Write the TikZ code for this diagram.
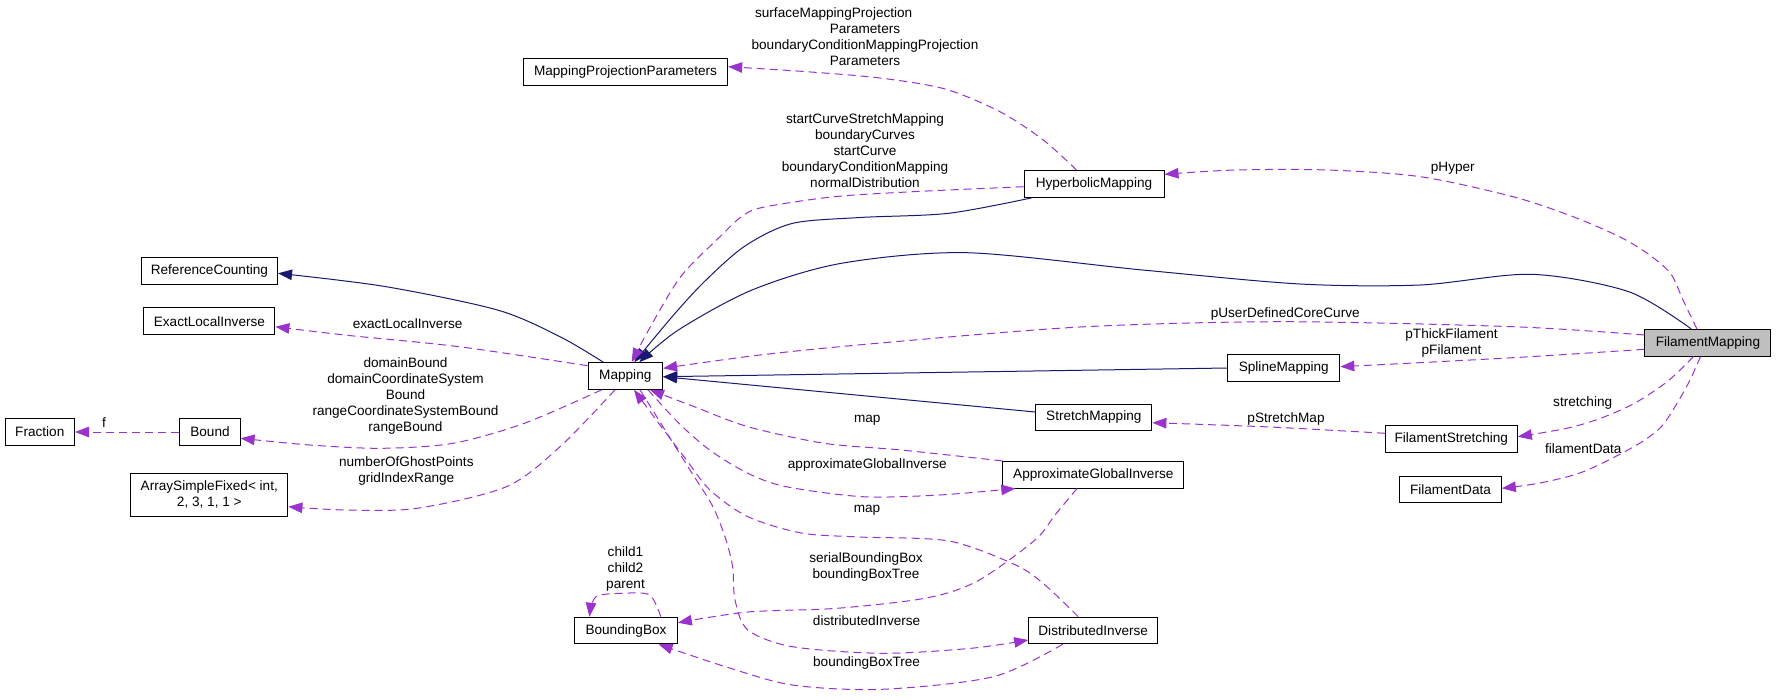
\documentclass[tikz,border=0pt]{standalone}
\usepackage{fontspec}
\setmainfont{Liberation Sans}
\usetikzlibrary{arrows.meta,calc}
\definecolor{inh}{HTML}{191970}
\definecolor{usec}{HTML}{9A32CD}
\definecolor{fmgray}{HTML}{BFBFBF}
\tikzset{
  cls/.style={draw=black, line width=1pt, fill=white, minimum height=26.6pt, inner sep=0pt,
    font=\fontsize{13.6}{16}\selectfont, text=black},
  inhedge/.style={draw=inh, line width=1pt, -{Triangle[length=14pt,width=10.5pt]}},
  useedge/.style={draw=usec, line width=1pt, dash pattern=on 8pt off 5pt, -{Triangle[length=14pt,width=10.5pt]}},
  lbl/.style={font=\fontsize{13.6}{16}\selectfont, align=center, inner sep=0pt, text=black},
  sm/.style={smooth, tension=0.5}
}
\begin{document}
\begin{tikzpicture}[x=1pt,y=-1pt]
\fill[white] (0,0) rectangle (1776,699);
\useasboundingbox (0,0) rectangle (1776,699);

% classes
\node[cls, minimum width=204.4pt] (mpp) at (625.5,72.2) {MappingProjectionParameters};
\node[cls, minimum width=140pt] (hm) at (1094,184) {HyperbolicMapping};
\node[cls, minimum width=136.3pt] (rc) at (209.4,270.7) {ReferenceCounting};
\node[cls, minimum width=131pt] (eli) at (209.4,321.2) {ExactLocalInverse};
\node[cls, minimum width=74.6pt] (m) at (625.3,376) {Mapping};
\node[cls, minimum width=69.6pt] (fr) at (39.8,432) {Fraction};
\node[cls, minimum width=60.1pt] (bd) at (210,432) {Bound};
\node[cls, minimum width=157.2pt, minimum height=42.7pt, align=center] (asf) at (209.3,494.7) {ArraySimpleFixed< int,\\ 2, 3, 1, 1 >};
\node[cls, minimum width=112pt] (spl) at (1283.8,368) {SplineMapping};
\node[cls, minimum width=126pt, fill=fmgray] (fm) at (1707.9,342.7) {FilamentMapping};
\node[cls, minimum width=116.2pt] (stm) at (1093.8,417.3) {StretchMapping};
\node[cls, minimum width=132pt] (fs) at (1451.3,438.7) {FilamentStretching};
\node[cls, minimum width=101.6pt] (fd) at (1450.5,489.3) {FilamentData};
\node[cls, minimum width=181pt] (agi) at (1093.3,474.7) {ApproximateGlobalInverse};
\node[cls, minimum width=102.7pt] (bb) at (626,630.5) {BoundingBox};
\node[cls, minimum width=129pt] (di) at (1093.2,630.5) {DistributedInverse};

% inheritance edges
\draw[inhedge] plot[sm] coordinates {($(m.north)+(-22,0)$) (560,336.7) (497.5,310) (385,286.5) ($(rc.east)+(0,2.6)$)};
\draw[inhedge] plot[sm] coordinates {($(hm.south)+(-62,0)$) (948.6,213.3) (860,217.5) (792,223.5) (745,246) (705,281) (673.6,315) ($(m.north)+(9,0)$)};
\draw[inhedge] plot[sm] coordinates {($(fm.north)+(-16.7,0)$) (1628.7,291.7) (1531.5,274.3) (1420,285) (1300,284) (1142.6,270) (966.4,252.7) (841.4,263.3) (752,290) (678.3,330) ($(m.north)+(14,0)$)};
\draw[inhedge] (spl.west) -- ($(m.east)+(0,0.7)$);
\draw[inhedge] ($(stm.west)+(0,-5.3)$) -- ($(m.east)+(0,0.7)$);

% usage edges
\draw[useedge] plot[sm] coordinates {($(hm.north)+(-17.3,0)$) (1043.3,140) (1000,111.7) (945,89) (880,78) (806.7,71.7) ($(mpp.east)+(0,-5.5)$)};
\draw[useedge] plot[sm] coordinates {($(hm.west)+(0,2.7)$) (912.9,191.7) (834.3,196.7) (762.9,207.3) (741.4,216.7) (720,236.7) (680.7,276.7) (648.6,330) ($(m.north)+(6.4,0)$)};
\draw[useedge] plot[sm] coordinates {($(fm.north)+(-11,0)$) (1683,300) (1670.4,273.3) (1647.2,253.3) (1619.4,236.7) (1573.1,216.7) (1513,196.7) (1420.4,176.7) (1327.8,170) (1235.2,170) ($(hm.east)+(0,-9.7)$)};
\draw[useedge] plot[sm] coordinates {($(fm.west)+(0,-7.7)$) (1513,326.7) (1281.5,321.7) (1080,327) (877,343.3) (760,355) ($(m.east)+(0,-7.7)$)};
\draw[useedge] plot[sm] coordinates {($(fm.west)+(0,6.6)$) (1513,357.7) ($(spl.east)+(0,-1.3)$)};
\draw[useedge] plot[sm] coordinates {($(fm.south)+(-14.4,0)$) (1668,381) (1635,403) (1600,418.5) (1566.7,428.3) ($(fs.east)+(0,-2)$)};
\draw[useedge] plot[sm] coordinates {($(fm.south)+(-7.4,0)$) (1690,380) (1676,405) (1660,428) (1633.3,447) (1583.3,471.7) (1540,483) ($(fd.east)+(0,-1)$)};
\draw[useedge] plot[sm] coordinates {($(fs.west)+(0,-5.4)$) (1270,427) ($(stm.east)+(0,5.4)$)};
\draw[useedge] plot[sm] coordinates {($(m.west)+(0,-10.3)$) (459,346.7) (344.4,335) ($(eli.east)+(0,5.5)$)};
\draw[useedge] plot[sm] coordinates {($(m.south)+(-23.6,0)$) (524.3,423.3) (452.9,443.3) (381.4,448.3) (310,445) ($(bd.east)+(0,6.3)$)};
\draw[useedge] plot[sm] coordinates {($(m.south)+(-10.3,0)$) (560,446.7) (506.4,486.7) (417,508.3) (345.7,510) ($(asf.east)+(0,12)$)};
\draw[useedge] (bd.west) -- (fr.east);
\draw[useedge] plot[sm] coordinates {(agi.north west) (901,450) (824.4,443.3) (747.9,426.7) (694.3,406.7) ($(m.south)+(24.7,0)$)};
\draw[useedge] plot[sm] coordinates {($(m.south)+(22.7,0)$) (679,423.3) (709.6,450) (747.9,473.3) (786.2,486.7) (862.7,496.7) (939.2,495) ($(agi.south west)+(13,0)$)};
\draw[useedge] plot[sm] coordinates {($(di.north)+(-15,0)$) (1045,585) (1015.7,565) (948.8,541) (859.5,537) (801.4,533) (747.9,516.7) (710,490) (685,458) (660,425) ($(m.south)+(8.7,0)$)};
\draw[useedge] plot[sm] coordinates {($(m.south)+(14.7,0)$) (665,430) (690,470) (712,505) (725,536.7) (732.6,566.7) (735,600) (747.9,630) (792.5,646.7) (881.8,653.3) (971,648.3) ($(di.west)+(0,9.5)$)};
\draw[useedge] plot[sm] coordinates {($(agi.south)+(-16.3,0)$) (1055,515) (1035,540) (977.5,581) (926.4,598) (837,608.3) (747.9,612) ($(bb.east)+(0,-7.8)$)};
\draw[useedge] plot[sm] coordinates {($(di.south)+(-30.6,0)$) (993.4,676.7) (881.8,689.3) (792.5,685) (725.5,666.7) ($(bb.south)+(32.6,0)$)};
\draw[useedge] plot[sm] coordinates {($(bb.north)+(34.8,0)$) (649.6,595) (622.9,593.3) (596,596.7) ($(bb.north)+(-36.6,0)$)};

% labels
\node[lbl] (l1) at (865,36.7) {surfaceMappingProjection\hspace*{62.6pt}\\Parameters\\boundaryConditionMappingProjection\\Parameters};
\node[lbl] (l2) at (865,150.7) {startCurveStretchMapping\\boundaryCurves\\startCurve\\boundaryConditionMapping\\normalDistribution};
\node[lbl] (l3) at (1452.8,168) {pHyper};
\node[lbl] (l4) at (1285.2,314.3) {pUserDefinedCoreCurve};
\node[lbl] (l5) at (1451.5,342.7) {pThickFilament\\pFilament};
\node[lbl] (l6) at (1582.7,403.3) {stretching};
\node[lbl] (l7) at (1583.3,448.7) {filamentData};
\node[lbl] (l8) at (1286,418.7) {pStretchMap};
\node[lbl] (l9) at (407.6,324) {exactLocalInverse};
\node[lbl] (l10) at (405.5,396) {domainBound\\domainCoordinateSystem\hspace*{28.8pt}\\Bound\\rangeCoordinateSystemBound\\rangeBound};
\node[lbl] (l11) at (406.3,471.3) {numberOfGhostPoints\\gridIndexRange};
\node[lbl] (l12) at (104,422.3) {f};
\node[lbl] (l13) at (867.3,420.7) {map};
\node[lbl] (l14) at (867.3,465) {approximateGlobalInverse};
\node[lbl] (l15) at (867,510.7) {map};
\node[lbl] (l16) at (866,566.7) {serialBoundingBox\\boundingBoxTree};
\node[lbl] (l17) at (866.6,620.7) {distributedInverse};
\node[lbl] (l18) at (866.6,663.3) {boundingBoxTree};
\node[lbl] (l19) at (625.5,569) {child1\\child2\\parent};
\end{tikzpicture}
\end{document}
